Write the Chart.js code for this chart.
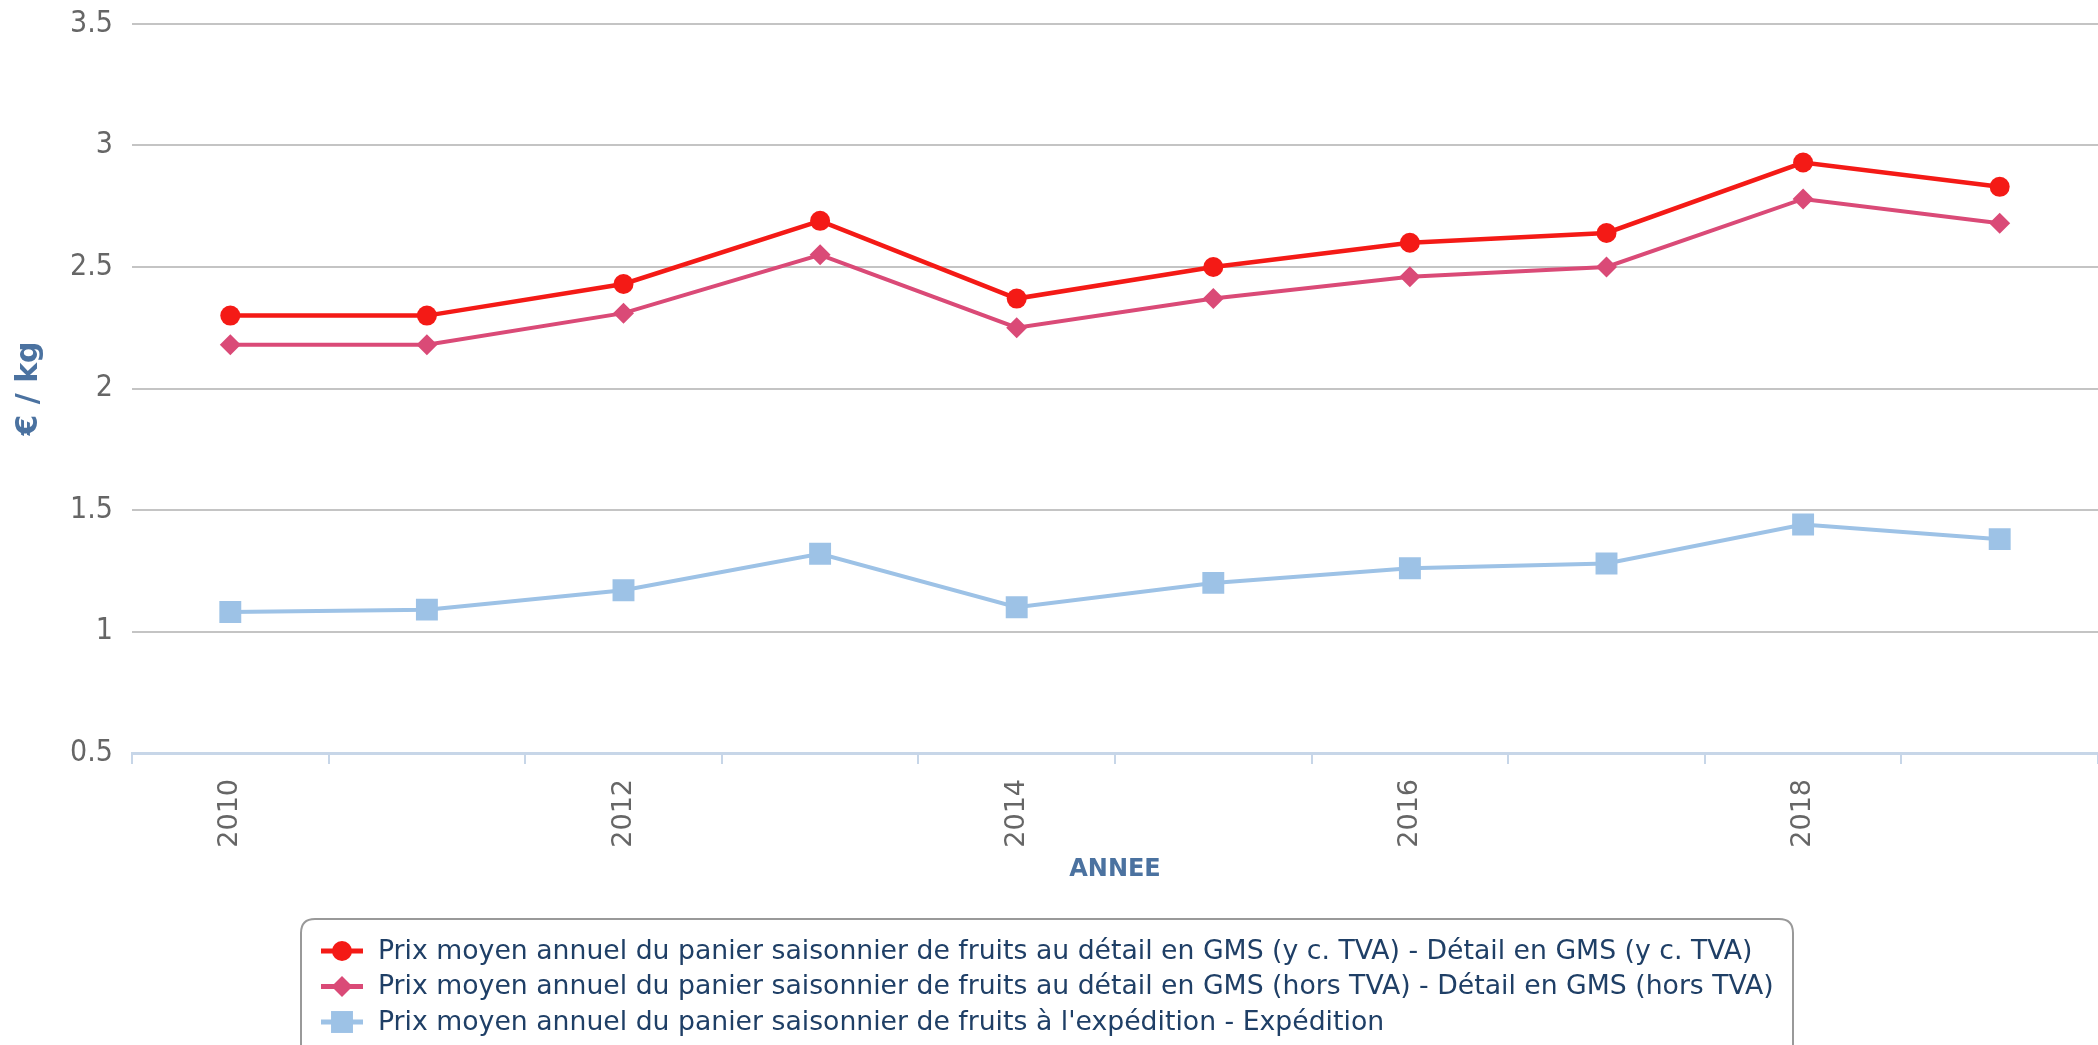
<!DOCTYPE html>
<html lang="fr">
<head>
<meta charset="utf-8">
<title>Prix moyen annuel du panier saisonnier de fruits</title>
<script src="https://cdn.jsdelivr.net/npm/chart.js@4.4.1/dist/chart.umd.min.js"></script>
<style>
    html, body { margin: 0; padding: 0; background: #fff; }
    #wrap { width: 2098px; height: 1045px; overflow: hidden; }
</style>
</head>
<body>
<div id="wrap"><canvas id="chart" width="2098" height="1045"></canvas></div>
<script>
// Données
const years = ['2010', '2011', '2012', '2013', '2014', '2015', '2016', '2017', '2018', '2019'];
const prixDetailTTC = [2.30, 2.30, 2.43, 2.69, 2.37, 2.50, 2.60, 2.64, 2.93, 2.83];
const prixDetailHT = [2.18, 2.18, 2.31, 2.55, 2.25, 2.37, 2.46, 2.50, 2.78, 2.68];
const prixExpedition = [1.08, 1.09, 1.17, 1.32, 1.10, 1.20, 1.26, 1.28, 1.44, 1.38];

const yTicks = [0.5, 1, 1.5, 2, 2.5, 3, 3.5];

const seriesLabels = [
    "Prix moyen annuel du panier saisonnier de fruits au détail en GMS (y c. TVA) - Détail en GMS (y c. TVA)",
    "Prix moyen annuel du panier saisonnier de fruits au détail en GMS (hors TVA) - Détail en GMS (hors TVA)",
    "Prix moyen annuel du panier saisonnier de fruits à l'expédition - Expédition"
];

const FONT = "'DejaVu Sans', sans-serif";
const FONT_COND = "'DejaVu Sans Condensed', 'DejaVu Sans', sans-serif";
const AXIS_BLUE = '#4b72a0';

// Marqueurs dessinés à la main pour la légende
function drawMarker(ctx, style, x, y, r) {
    ctx.beginPath();
    if (style === 'circle') {
        ctx.arc(x, y, r, 0, Math.PI * 2);
    } else if (style === 'rectRot') {
        ctx.moveTo(x, y - r);
        ctx.lineTo(x + r, y);
        ctx.lineTo(x, y + r);
        ctx.lineTo(x - r, y);
        ctx.closePath();
    } else {
        const s = r * Math.SQRT1_2;
        ctx.rect(x - s, y - s, 2 * s, 2 * s);
    }
    ctx.fill();
}

function roundRect(ctx, x, y, w, h, r) {
    ctx.beginPath();
    ctx.moveTo(x + r, y);
    ctx.lineTo(x + w - r, y);
    ctx.quadraticCurveTo(x + w, y, x + w, y + r);
    ctx.lineTo(x + w, y + h - r);
    ctx.quadraticCurveTo(x + w, y + h, x + w - r, y + h);
    ctx.lineTo(x + r, y + h);
    ctx.quadraticCurveTo(x, y + h, x, y + h - r);
    ctx.lineTo(x, y + r);
    ctx.quadraticCurveTo(x, y, x + r, y);
    ctx.closePath();
}

// Légende encadrée sous le graphique
const boxLegend = {
    id: 'boxLegend',
    afterDraw(chart) {
        const ctx = chart.ctx;
        ctx.save();
        ctx.lineWidth = 2;
        ctx.strokeStyle = '#999999';
        roundRect(ctx, 301, 919, 1492, 150, 14);
        ctx.stroke();

        ctx.font = '26.7px ' + FONT;
        ctx.textBaseline = 'middle';
        ctx.textAlign = 'left';
        chart.data.datasets.forEach((ds, i) => {
            const y = 951 + i * 35.5;
            ctx.strokeStyle = ds.borderColor;
            ctx.fillStyle = ds.borderColor;
            ctx.lineWidth = 5;
            ctx.beginPath();
            ctx.moveTo(321, y);
            ctx.lineTo(363, y);
            ctx.stroke();
            drawMarker(ctx, ds.pointStyle, 342, y, ds.pointRadius);
            ctx.fillStyle = '#1f3f66';
            ctx.fillText(ds.label, 378, y + 1);
        });
        ctx.restore();
    }
};

new Chart(document.getElementById('chart'), {
    type: 'line',
    data: {
        labels: years,
        datasets: [
            {
                label: seriesLabels[0],
                data: prixDetailTTC,
                borderColor: '#f41a16',
                backgroundColor: '#f41a16',
                borderWidth: 4.5,
                pointStyle: 'circle',
                pointRadius: 10,
                pointBorderWidth: 0
            },
            {
                label: seriesLabels[1],
                data: prixDetailHT,
                borderColor: '#da4a77',
                backgroundColor: '#da4a77',
                borderWidth: 4,
                pointStyle: 'rectRot',
                pointRadius: 10.5,
                pointBorderWidth: 0
            },
            {
                label: seriesLabels[2],
                data: prixExpedition,
                borderColor: '#9dc2e6',
                backgroundColor: '#9dc2e6',
                borderWidth: 4,
                pointStyle: 'rect',
                pointRadius: 15.5,
                pointBorderWidth: 0
            }
        ]
    },
    options: {
        responsive: false,
        animation: false,
        layout: { autoPadding: false, padding: { top: 24, right: 0, bottom: 150, left: 0 } },
        plugins: {
            legend: { display: false },
            tooltip: { enabled: false }
        },
        scales: {
            x: {
                type: 'category',
                offset: true,
                grid: {
                    offset: true,
                    drawOnChartArea: false,
                    drawTicks: true,
                    tickLength: 11,
                    color: '#c7d6e8',
                    lineWidth: 2
                },
                border: { display: true, color: '#c7d6e8', width: 3 },
                ticks: {
                    autoSkip: false,
                    maxRotation: 90,
                    minRotation: 90,
                    padding: 15,
                    color: '#666666',
                    font: { family: FONT, size: 27 },
                    callback: (v, i) => (i % 2 === 0 ? years[i] : '')
                },
                title: {
                    display: true,
                    text: 'ANNEE',
                    color: AXIS_BLUE,
                    font: { family: FONT, size: 24, weight: 'bold' },
                    padding: { top: 4, bottom: 10.6 }
                },
                afterFit: (scale) => {
                    scale.height = 142;
                    scale.paddingLeft = 0;
                    scale.paddingRight = 0;
                }
            },
            y: {
                min: 0.5,
                max: 3.5,
                afterBuildTicks: (scale) => { scale.ticks = yTicks.map(v => ({ value: v })); },
                grid: {
                    drawTicks: false,
                    lineWidth: 2,
                    color: (c) => (c.tick && c.tick.value === 0.5 ? 'rgba(0,0,0,0)' : '#c4c4c4')
                },
                border: { display: false },
                ticks: {
                    padding: 19,
                    color: '#666666',
                    font: { family: FONT_COND, size: 30 },
                    callback: (v) => String(v)
                },
                title: {
                    display: true,
                    text: '€ / kg',
                    color: AXIS_BLUE,
                    font: { family: FONT, size: 30, weight: 'bold' },
                    padding: { top: 11, bottom: 0 }
                },
                afterFit: (scale) => {
                    scale.width = 132;
                    scale.paddingTop = 0;
                    scale.paddingBottom = 0;
                }
            }
        }
    },
    plugins: [boxLegend]
});
</script>
</body>
</html>
